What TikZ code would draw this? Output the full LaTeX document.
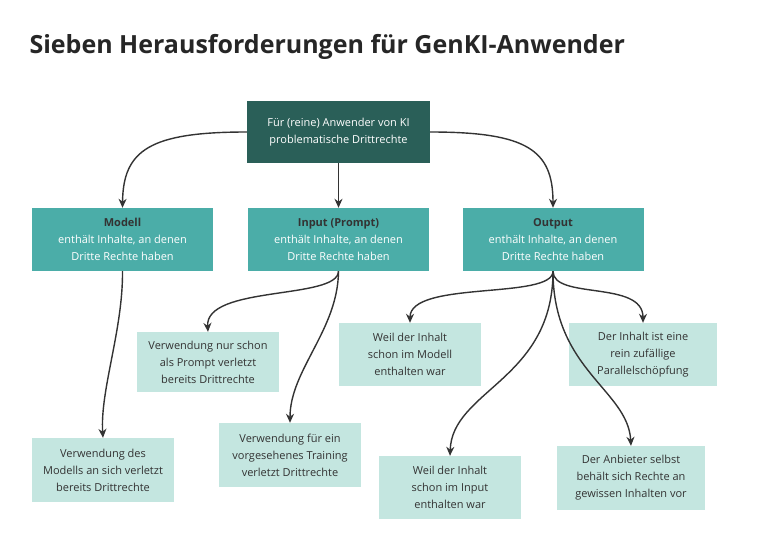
\documentclass[tikz,border=0pt]{standalone}
\usepackage{fontspec}
\setmainfont{Open Sans}
\usetikzlibrary{arrows.meta}
\definecolor{dark}{HTML}{2A5F58}
\definecolor{mid}{HTML}{4BADA8}
\definecolor{light}{HTML}{C4E6E0}
\definecolor{ln}{HTML}{333333}
\begin{document}
\begin{tikzpicture}[x=1pt,y=-1pt,
  box/.style={draw=none,inner sep=0pt,align=center,font=\fontsize{11}{17}\selectfont,text=ln},
  arr/.style={-{Stealth[length=9pt,width=8pt]},line width=1.4pt,draw=ln}]
\useasboundingbox[fill=white] (0,0) rectangle (768,551);
\node[anchor=west,font=\fontsize{25}{30}\selectfont\bfseries,text=black!85] (title) at (26,47) {Sieben Herausforderungen für GenKI-Anwender};
\node[box,fill=dark,text=white,minimum width=183pt,minimum height=62pt] (top) at (338.5,132) {Für (reine) Anwender von KI\\problematische Drittrechte};
\node[box,fill=mid,text=white,minimum width=181pt,minimum height=63pt] (m) at (122.5,239.5) {\textbf{\color{ln}Modell}\\enthält Inhalte, an denen\\Dritte Rechte haben};
\node[box,fill=mid,text=white,minimum width=181pt,minimum height=63pt] (i) at (338.5,239.5) {\textbf{\color{ln}Input (Prompt)}\\enthält Inhalte, an denen\\Dritte Rechte haben};
\node[box,fill=mid,text=white,minimum width=181pt,minimum height=63pt] (o) at (553,239.5) {\textbf{\color{ln}Output}\\enthält Inhalte, an denen\\Dritte Rechte haben};
\node[box,fill=light,minimum width=142pt,minimum height=60pt] (a) at (208,362) {Verwendung nur schon\\als Prompt verletzt\\bereits Drittrechte};
\node[box,fill=light,minimum width=142pt,minimum height=63pt] (b) at (410,354.5) {Weil der Inhalt\\schon im Modell\\enthalten war};
\node[box,fill=light,minimum width=148pt,minimum height=63pt] (c) at (643,354.5) {Der Inhalt ist eine\\rein zufällige\\Parallelschöpfung};
\node[box,fill=light,minimum width=142pt,minimum height=64pt] (d) at (103,470) {Verwendung des\\Modells an sich verletzt\\bereits Drittrechte};
\node[box,fill=light,minimum width=142pt,minimum height=64pt] (e) at (290,455) {Verwendung für ein\\vorgesehenes Training\\verletzt Drittrechte};
\node[box,fill=light,minimum width=142pt,minimum height=63pt] (f) at (450,487.5) {Weil der Inhalt\\schon im Input\\enthalten war};
\node[box,fill=light,minimum width=148pt,minimum height=64pt] (g) at (631,478) {Der Anbieter selbst\\behält sich Rechte an\\gewissen Inhalten vor};
\draw[arr] (top.west) .. controls (150,132) and (123,150) .. (m.north);
\draw[arr] (top.south) -- (i.north);
\draw[arr] (top.east) .. controls (527,132) and (553,150) .. (o.north);
\draw[arr] (m.south) .. controls (123,330) and (100,390) .. (d.north);
\draw[arr] (i.south) .. controls (338,300) and (205,285) .. (a.north);
\draw[arr] (i.south) .. controls (338,330) and (290,370) .. (e.north);
\draw[arr] (o.south) .. controls (553,300) and (410,280) .. (b.north);
\draw[arr] (o.south) .. controls (553,300) and (643,280) .. (c.north);
\draw[arr] (o.south) .. controls (553,380) and (452,390) .. (f.north);
\draw[arr] (o.south) .. controls (553,370) and (628,390) .. (g.north);
\end{tikzpicture}
\end{document}
